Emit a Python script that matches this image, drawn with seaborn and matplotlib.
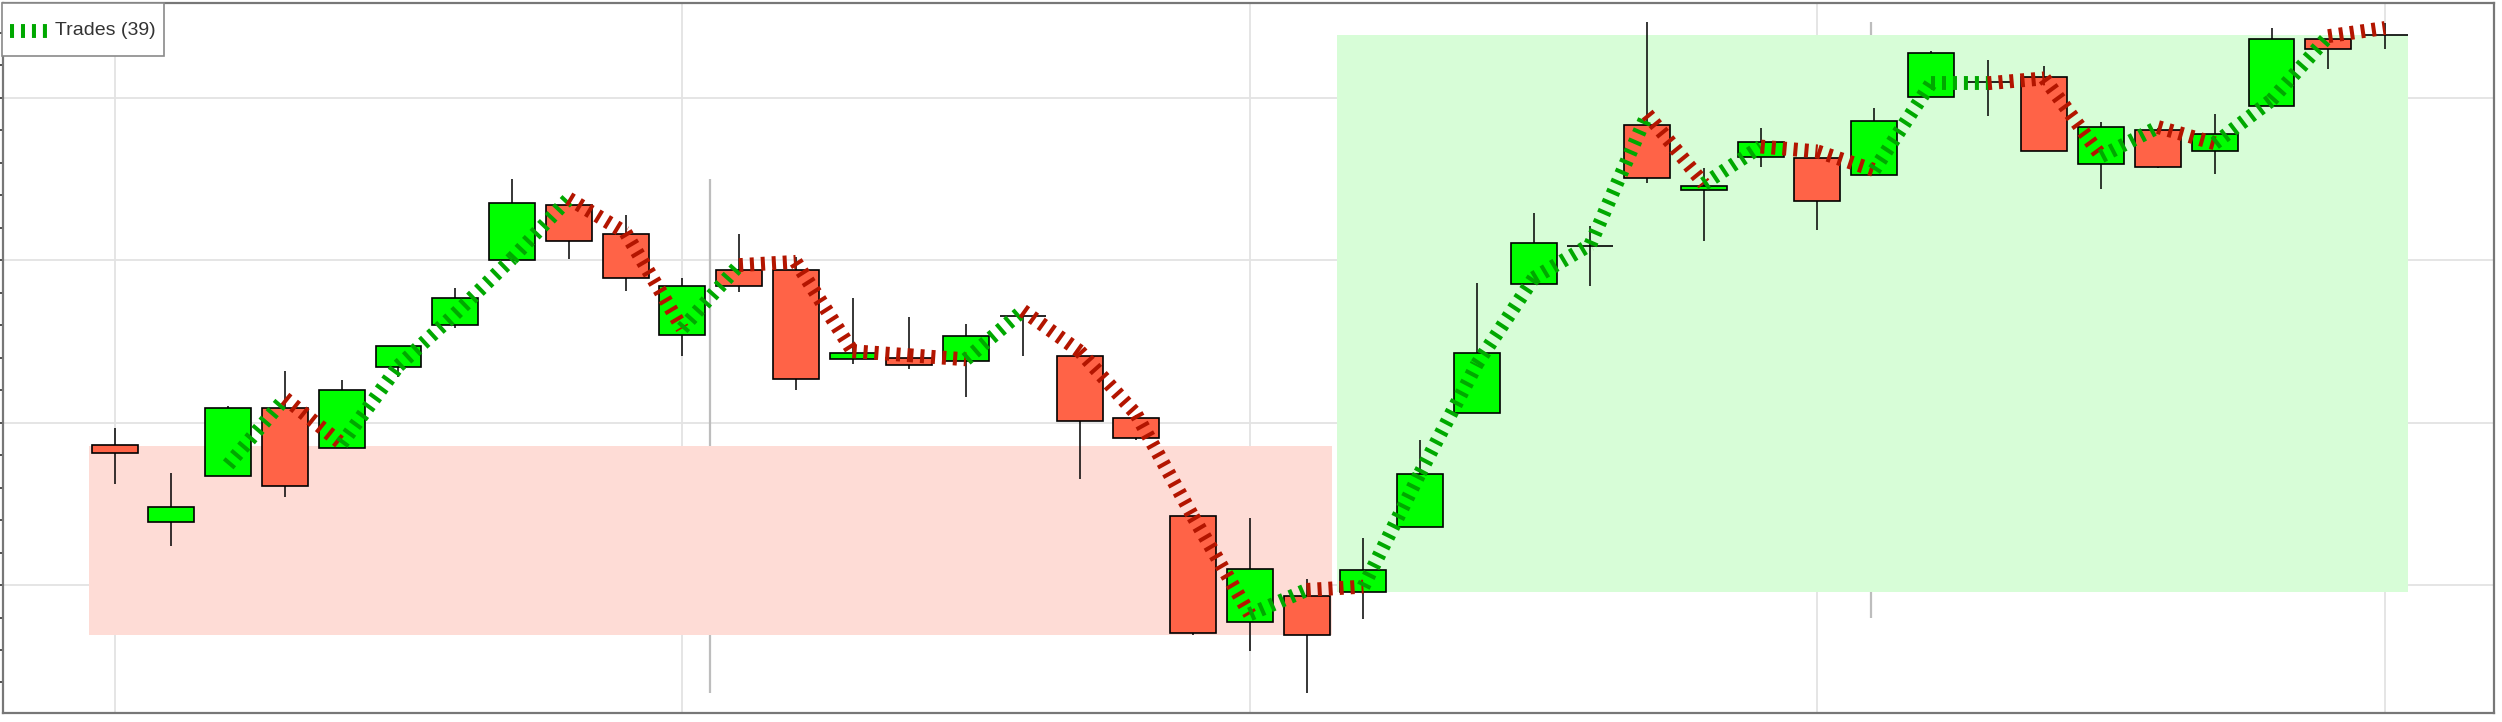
import matplotlib
matplotlib.use("Agg")
import matplotlib.pyplot as plt
from matplotlib.lines import Line2D
from matplotlib.patches import Rectangle
from matplotlib.legend_handler import HandlerLine2D
from matplotlib.ticker import MultipleLocator, NullFormatter
import numpy as np
import pandas as pd
import seaborn as sns

# ---------------- data ----------------
opens = [88.6, 83.9, 86.7, 90.9, 88.45, 93.4, 96.0, 100.0, 103.4, 101.6,
         95.4, 99.4, 99.4, 93.9, 94.0, 93.8, 96.55, 94.1, 90.3, 84.25,
         77.7, 79.3, 79.55, 83.55, 90.6, 98.55, 100.87, 108.35, 104.35, 106.35,
         106.3, 105.25, 110.05, 111.0, 111.3, 105.95, 108.0, 106.7, 109.5, 113.6,
         113.9]
highs = [89.7, 86.9, 91.0, 93.2, 92.6, 94.7, 98.3, 105.0, 103.4, 102.8,
         98.9, 101.6, 100.2, 97.7, 96.5, 96.05, 96.6, 94.1, 90.5, 84.25,
         84.1, 80.4, 82.9, 88.9, 98.6, 102.9, 102.1, 114.65, 105.65, 108.15,
         106.3, 109.4, 112.9, 112.33, 111.95, 108.5, 108.15, 109.0, 114.3, 113.6,
         114.6]
lows = [86.2, 82.4, 86.7, 85.4, 88.45, 92.8, 95.8, 100.0, 100.1, 98.1,
        94.1, 98.05, 92.0, 93.6, 93.3, 91.6, 94.1, 86.5, 88.9, 76.9,
        75.95, 73.35, 77.9, 83.55, 90.6, 98.55, 98.4, 104.75, 101.2, 105.75,
        101.85, 105.25, 110.05, 108.9, 106.75, 104.4, 105.7, 105.3, 109.5, 111.8,
        113.0]
closes = [88.1, 84.8, 90.9, 86.1, 92.0, 94.7, 97.7, 103.5, 101.2, 98.9,
          98.4, 98.4, 92.7, 94.3, 93.55, 95.35, 96.55, 90.1, 89.05, 77.05,
          81.0, 76.9, 80.9, 86.85, 94.3, 101.05, 100.87, 105.05, 104.6, 107.3,
          103.65, 108.55, 112.75, 111.0, 106.75, 108.2, 105.75, 107.8, 113.6, 113.0,
          113.9]

# trade path: vertex candle index, value, and colour of each leg
trade_idx = list(range(2, 41))
trade_val = [87.4, 91.5, 88.7, 93.5, 96.7, 100.1, 103.8, 101.7, 95.8, 99.7,
             99.9, 94.4, 94.15, 93.9, 96.9, 94.4, 90.5, 84.2, 78.2, 79.7,
             79.9, 86.9, 93.6, 98.9, 100.97, 109.0, 104.7, 107.0, 106.7, 105.55,
             110.9, 110.9, 111.2, 106.4, 108.2, 107.2, 109.86, 113.8, 114.3]
trade_leg = ["up", "down", "up", "up", "up", "up", "down", "down", "up", "down",
             "down", "down", "down", "up", "down", "down", "down", "down", "up", "down",
             "up", "up", "up", "up", "up", "down", "up", "down", "down", "up",
             "up", "down", "down", "up", "down", "up", "up", "down"]
trade_label = "Trades (39)"

# shaded zones: (x0, x1, y0, y1) in candle index / price units
zone_red = (-0.45, 21.44, 76.94, 88.58)
zone_green = (21.54, 40.40, 79.55, 113.89)

# grey vertical markers: (x, y0, y1)
markers_x = [10.48, 30.95]
markers_y0 = [73.36, 77.94]
markers_y1 = [105.0, 114.69]

# ---------------- style ----------------
sns.set_style("whitegrid")
plt.rcParams["font.family"] = ["Liberation Sans", "DejaVu Sans"]

UP_BODY = "#00ff00"
DOWN_BODY = "#ff6347"
LEG_COL = {"up": "#00a800", "down": "#b31500"}

df = pd.DataFrame({"i": np.arange(len(opens)), "open": opens, "high": highs,
                   "low": lows, "close": closes})
df["bottom"] = df[["open", "close"]].min(axis=1)
df["height"] = (df["close"] - df["open"]).abs()
df["col"] = np.where(df["close"] >= df["open"], UP_BODY, DOWN_BODY)

W, H = 2502, 722
fig = plt.figure(figsize=(W / 100, H / 100), dpi=100)
ax = fig.add_axes([3 / W, 9 / H, 2491 / W, 710 / H])
ax.set_facecolor("white")

ax.set_xlim(-1.968, 41.92)
ax.set_ylim(72.12, 115.84)

# grid
ax.set_axisbelow(True)
ax.xaxis.set_major_locator(MultipleLocator(10))
ax.yaxis.set_major_locator(MultipleLocator(10))
ax.yaxis.set_minor_locator(MultipleLocator(2))
ax.xaxis.set_major_formatter(NullFormatter())
ax.yaxis.set_major_formatter(NullFormatter())
ax.grid(True, which="major", color="#e3e3e3", lw=1.3)
ax.grid(False, which="minor")
ax.tick_params(axis="x", length=0)
ax.tick_params(axis="y", which="both", direction="out", length=3, width=1.2,
               color="#333333", left=True)

for s in ax.spines.values():
    s.set_visible(True)
    s.set_color("#777777")
    s.set_linewidth(1.6)

# grey vertical markers (behind zones)
ax.vlines(markers_x, markers_y0, markers_y1, color="#bdbdbd", lw=1.6, zorder=0.8)

# zones
for (x0, x1, y0, y1), c in [(zone_red, "#fedcd6"), (zone_green, "#d7fdd7")]:
    ax.add_patch(Rectangle((x0, y0), x1 - x0, y1 - y0, facecolor=c, lw=0, zorder=1))

# wicks and bodies
ax.vlines(df["i"], df["low"], df["high"], color="black", lw=1.1, zorder=2.5)
ax.bar(df["i"], df["height"], bottom=df["bottom"], width=0.81, color=df["col"],
       edgecolor="black", linewidth=1.2, zorder=3)

# trade legs
LW = 10.0
DASH = (0.29, 0.5)
for j, leg in enumerate(trade_leg):
    ax.plot(trade_idx[j:j + 2], trade_val[j:j + 2], color=LEG_COL[leg], lw=LW,
            dashes=DASH, dash_capstyle="butt", zorder=4)


class ShiftedLine(HandlerLine2D):
    """Legend line handler that lowers the sample so it sits level with the label."""

    def __init__(self, shift, **kw):
        super().__init__(**kw)
        self.shift = shift

    def create_artists(self, legend, orig_handle, xdescent, ydescent, width,
                       height, fontsize, trans):
        arts = super().create_artists(legend, orig_handle, xdescent, ydescent,
                                      width, height, fontsize, trans)
        for a in arts:
            a.set_ydata(np.asarray(a.get_ydata(), dtype=float) - self.shift)
        return arts


handle = Line2D([], [], color=LEG_COL["up"], lw=LW, dashes=DASH, dash_capstyle="butt")
leg = ax.legend([handle], [trade_label], loc="upper left", bbox_to_anchor=(-0.0004, 1.0),
                borderaxespad=0, frameon=True, fancybox=False, edgecolor="#8a8a8a",
                framealpha=1, handlelength=1.9, handleheight=2.6, handletextpad=0.45,
                borderpad=0.4, prop={"family": "Liberation Sans", "size": 14},
                labelcolor="#333333",
                handler_map={Line2D: ShiftedLine(shift=5.4)})
leg.get_frame().set_linewidth(1.2)
leg.set_zorder(10)

fig.savefig("out.png", dpi=100, facecolor="white")
